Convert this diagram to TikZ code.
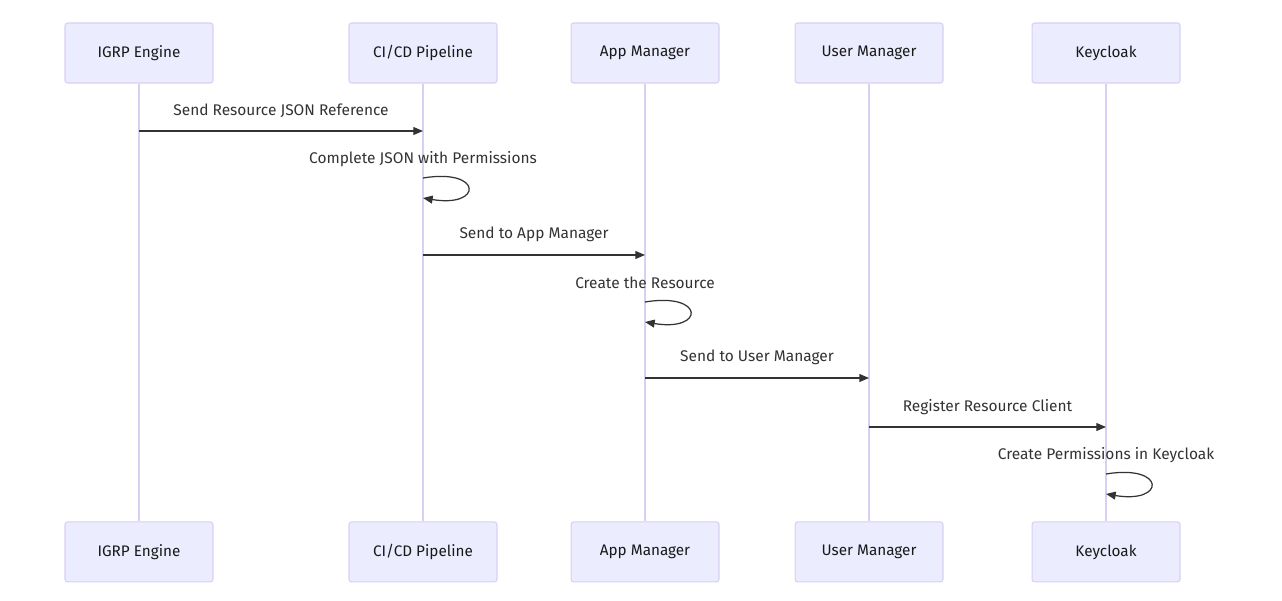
\documentclass[tikz,border=0pt]{standalone}
\usepackage{fontspec}
\setmainfont{Fira Sans}
\usetikzlibrary{positioning, arrows.meta, calc}
\definecolor{actorfill}{HTML}{ECECFF}
\definecolor{actorline}{HTML}{DACEF3}
\definecolor{msgtext}{HTML}{333333}

\begin{document}
\begin{tikzpicture}[
    x=0.02cm, y=-0.02cm,
    actor/.style={rectangle, rounded corners=1.5pt, draw=actorline, fill=actorfill, line width=0.6pt, minimum width=2.96cm, minimum height=1.2cm, font=\fontsize{8.7}{10}\selectfont, text=black!90},
    life/.style={draw=actorline, line width=0.9pt},
    msg/.style={-{Triangle[length=5.5pt,width=4.5pt]}, draw=msgtext, line width=0.7pt},
    msglabel/.style={font=\fontsize{8.8}{10}\selectfont, text=msgtext}
]
\useasboundingbox[fill=white] (0,0) rectangle (1282,601);

% actors on top
\node[actor] (igrpT) at (139,53) {IGRP Engine};
\node[actor, right=2.70cm of igrpT] (cicdT) {CI/CD Pipeline};
\node[actor, right=1.46cm of cicdT] (appT) {App Manager};
\node[actor, right=1.50cm of appT] (userT) {User Manager};
\node[actor, right=1.76cm of userT] (keyT) {Keycloak};

% actors at the bottom
\node[actor, below=8.76cm of igrpT] (igrpB) {IGRP Engine};
\node[actor, below=8.76cm of cicdT] (cicdB) {CI/CD Pipeline};
\node[actor, below=8.76cm of appT] (appB) {App Manager};
\node[actor, below=8.76cm of userT] (userB) {User Manager};
\node[actor, below=8.76cm of keyT] (keyB) {Keycloak};

% lifelines
\draw[life] (igrpT.south) -- (igrpB.north);
\draw[life] (cicdT.south) -- (cicdB.north);
\draw[life] (appT.south) -- (appB.north);
\draw[life] (userT.south) -- (userB.north);
\draw[life] (keyT.south) -- (keyB.north);

% message rows
\coordinate (m1) at (0,131);
\coordinate (m2) at (0,178);
\coordinate (m3) at (0,255);
\coordinate (m4) at (0,302);
\coordinate (m5) at (0,378);
\coordinate (m6) at (0,427);
\coordinate (m7) at (0,474);

% Messages
\draw[msg] (igrpT |- m1) -- node[msglabel, yshift=0.4cm] (l1) {Send Resource JSON Reference} (cicdT |- m1);
\draw[msg] (cicdT |- m2) .. controls +(60,-10) and +(60,10) .. ($(cicdT |- m2)+(0,20)$);
\node[msglabel] (l2) at ($(cicdT |- m2)+(0,-19)$) {Complete JSON with Permissions};
\draw[msg] (cicdT |- m3) -- node[msglabel, yshift=0.42cm] (l3) {Send to App Manager} (appT |- m3);
\draw[msg] (appT |- m4) .. controls +(60,-10) and +(60,10) .. ($(appT |- m4)+(0,20)$);
\node[msglabel] (l4) at ($(appT |- m4)+(0,-19)$) {Create the Resource};
\draw[msg] (appT |- m5) -- node[msglabel, yshift=0.42cm] (l5) {Send to User Manager} (userT |- m5);
\draw[msg] (userT |- m6) -- node[msglabel, yshift=0.4cm] (l6) {Register Resource Client} (keyT |- m6);
\draw[msg] (keyT |- m7) .. controls +(60,-10) and +(60,10) .. ($(keyT |- m7)+(0,20)$);
\node[msglabel] (l7) at ($(keyT |- m7)+(0,-19)$) {Create Permissions in Keycloak};
\end{tikzpicture}
\end{document}
